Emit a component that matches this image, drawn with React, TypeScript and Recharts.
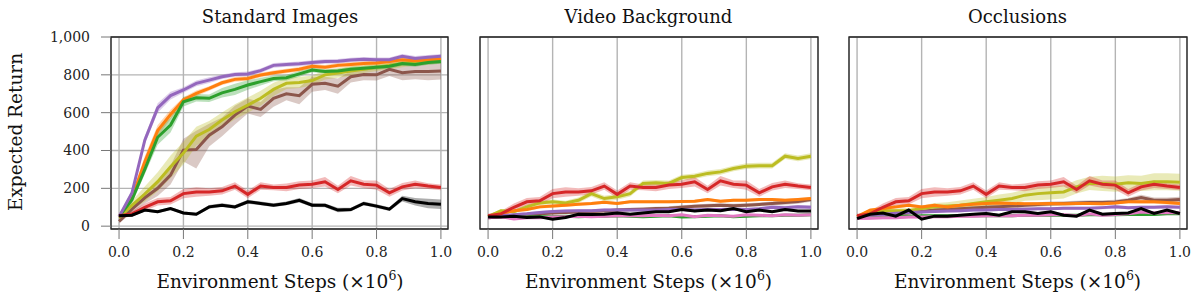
import { ComposedChart, Line, Area, XAxis, YAxis, CartesianGrid, ReferenceArea } from "recharts";

// environment steps (x10^6)
const steps = [0, 0.04, 0.08, 0.12, 0.16, 0.2, 0.24, 0.28, 0.32, 0.36, 0.4, 0.44, 0.48, 0.52, 0.56, 0.6, 0.64, 0.68, 0.72, 0.76, 0.8, 0.84, 0.88, 0.92, 0.96, 1.0];
const xTicks = [0, 0.2, 0.4, 0.6, 0.8, 1.0];
const yTicks = [0, 200, 400, 600, 800, 1000];
const panelTitles = ["Standard Images", "Video Background", "Occlusions"];

const COLORS: Record<string, string> = {
  brown: "#8c564b",
  olive: "#bcbd22",
  orange: "#ff7f0e",
  green: "#2ca02c",
  purple: "#9467bd",
  pink: "#e377c2",
  red: "#d62728",
  black: "#000000",
};

// red is the same in every panel
const red = [55, 65, 100, 129, 134, 172, 181, 181, 187, 212, 168, 212, 205, 205, 217, 222, 235, 194, 240, 222, 217, 176, 208, 222, 212, 205];
const redSd = [10, 15, 20, 20, 20, 25, 25, 20, 20, 20, 20, 20, 15, 20, 20, 20, 25, 20, 25, 20, 25, 20, 20, 20, 15, 15];

// Standard Images
const std = {
  brown: [25, 90, 150, 200, 270, 402, 405, 481, 525, 587, 635, 617, 676, 700, 690, 750, 755, 740, 790, 802, 800, 829, 811, 817, 817, 820],
  olive: [45, 110, 170, 235, 314, 386, 476, 511, 561, 605, 640, 676, 723, 755, 760, 770, 800, 810, 820, 830, 840, 850, 860, 870, 875, 875],
  orange: [50, 150, 340, 505, 590, 667, 702, 728, 758, 776, 781, 799, 811, 820, 830, 845, 840, 850, 855, 860, 862, 870, 880, 875, 880, 885],
  green: [50, 140, 300, 470, 535, 658, 679, 676, 705, 723, 746, 764, 781, 785, 805, 825, 818, 820, 830, 835, 840, 845, 860, 855, 865, 870],
  purple: [50, 175, 455, 625, 690, 720, 755, 772, 790, 802, 805, 822, 850, 855, 858, 865, 870, 872, 878, 882, 880, 880, 898, 887, 893, 898],
  red,
  black: [55, 58, 85, 76, 93, 70, 63, 102, 111, 102, 129, 120, 111, 120, 137, 111, 110, 85, 88, 120, 106, 90, 146, 129, 120, 116],
};
const stdSd = {
  brown: [10, 20, 30, 40, 50, 60, 100, 60, 50, 50, 40, 40, 45, 35, 45, 40, 35, 40, 30, 30, 30, 35, 40, 40, 45, 45],
  olive: [10, 25, 40, 50, 60, 60, 50, 45, 40, 40, 40, 40, 35, 30, 30, 25, 25, 25, 25, 20, 20, 20, 20, 20, 20, 15],
  orange: [10, 20, 30, 30, 25, 15, 15, 12, 12, 12, 12, 12, 12, 12, 12, 12, 12, 12, 12, 12, 12, 12, 12, 12, 12, 12],
  green: [10, 20, 25, 40, 40, 25, 20, 20, 25, 30, 25, 20, 15, 15, 15, 12, 12, 12, 12, 12, 12, 12, 12, 12, 12, 12],
  purple: [10, 15, 20, 25, 20, 15, 15, 15, 12, 12, 12, 12, 12, 12, 12, 12, 12, 12, 12, 12, 12, 12, 12, 12, 12, 12],
  red: redSd,
  black: [8, 8, 8, 8, 8, 8, 8, 10, 10, 10, 10, 10, 10, 10, 12, 10, 10, 12, 10, 10, 10, 10, 15, 20, 25, 25],
};

// Video Background
const video = {
  brown: [45, 50, 55, 60, 65, 70, 72, 75, 78, 80, 85, 88, 90, 93, 95, 100, 105, 108, 111, 108, 111, 115, 120, 125, 130, 141],
  olive: [50, 81, 76, 102, 123, 129, 123, 137, 172, 146, 155, 172, 226, 229, 226, 257, 264, 279, 287, 305, 317, 320, 320, 370, 358, 370],
  orange: [50, 67, 81, 88, 102, 106, 111, 116, 120, 127, 120, 129, 129, 129, 129, 130, 132, 141, 132, 137, 137, 141, 141, 137, 141, 146],
  green: [50, 52, 50, 48, 50, 50, 52, 50, 52, 52, 55, 52, 50, 52, 55, 48, 50, 52, 55, 50, 52, 55, 55, 58, 58, 60],
  purple: [50, 55, 60, 65, 72, 78, 80, 82, 82, 85, 85, 85, 85, 85, 88, 88, 85, 88, 88, 90, 88, 92, 100, 98, 102, 100],
  pink: [45, 50, 38, 45, 45, 48, 50, 52, 50, 52, 55, 55, 55, 58, 55, 60, 50, 58, 55, 52, 60, 58, 55, 60, 58, 60],
  red,
  black: [49, 49, 52, 46, 49, 37, 46, 63, 61, 63, 70, 63, 70, 76, 76, 88, 80, 85, 81, 93, 76, 85, 76, 88, 80, 80],
};
const videoSd = {
  brown: [8, 8, 8, 8, 8, 8, 8, 8, 8, 8, 10, 10, 10, 10, 10, 10, 10, 10, 10, 10, 10, 10, 10, 12, 12, 12],
  olive: [8, 10, 10, 12, 12, 12, 12, 15, 15, 15, 15, 15, 15, 15, 15, 15, 15, 15, 15, 15, 15, 15, 15, 15, 15, 15],
  orange: [6, 6, 8, 8, 8, 8, 8, 8, 8, 8, 8, 8, 8, 8, 8, 8, 8, 8, 8, 8, 8, 8, 8, 8, 8, 8],
  green: [5, 5, 5, 5, 5, 5, 5, 5, 5, 5, 5, 5, 5, 5, 5, 5, 5, 5, 5, 5, 5, 5, 5, 5, 5, 5],
  purple: [6, 6, 8, 8, 8, 8, 8, 8, 8, 8, 8, 8, 8, 8, 8, 8, 8, 8, 8, 8, 8, 8, 10, 10, 10, 10],
  pink: [6, 6, 6, 6, 6, 6, 6, 6, 6, 6, 6, 6, 6, 6, 6, 6, 6, 6, 6, 6, 6, 6, 6, 6, 6, 6],
  red: redSd,
  black: [6, 6, 6, 6, 6, 6, 6, 6, 6, 6, 6, 6, 6, 6, 6, 6, 6, 6, 6, 6, 6, 6, 6, 6, 6, 6],
};

// Occlusions
const occl = {
  brown: [48, 55, 60, 65, 70, 78, 85, 88, 92, 96, 100, 103, 106, 110, 115, 118, 120, 122, 125, 125, 128, 137, 151, 137, 137, 141],
  olive: [50, 76, 81, 81, 81, 93, 102, 106, 111, 120, 129, 137, 146, 164, 172, 176, 181, 208, 226, 226, 222, 229, 226, 235, 235, 232],
  orange: [50, 85, 93, 102, 111, 102, 111, 102, 111, 116, 120, 123, 120, 118, 118, 120, 118, 120, 120, 118, 122, 129, 129, 129, 125, 120],
  green: [45, 50, 50, 52, 52, 55, 55, 55, 55, 55, 55, 55, 55, 58, 58, 58, 58, 58, 60, 60, 60, 62, 62, 62, 65, 65],
  purple: [50, 58, 62, 68, 72, 75, 78, 80, 82, 85, 85, 88, 88, 90, 92, 92, 95, 95, 95, 98, 102, 98, 100, 100, 102, 100],
  pink: [40, 42, 45, 45, 48, 48, 50, 50, 52, 52, 55, 55, 55, 58, 58, 60, 60, 55, 65, 58, 62, 65, 75, 70, 72, 70],
  red,
  black: [40, 63, 70, 53, 85, 37, 53, 53, 58, 63, 67, 58, 76, 76, 67, 76, 58, 53, 85, 63, 67, 70, 93, 67, 85, 67],
};
const occlSd = {
  brown: [8, 8, 8, 8, 8, 8, 10, 10, 10, 10, 10, 10, 10, 12, 12, 12, 12, 12, 12, 12, 12, 12, 15, 15, 15, 15],
  olive: [8, 10, 12, 12, 15, 15, 20, 20, 25, 25, 25, 30, 30, 30, 35, 35, 35, 35, 35, 40, 40, 40, 40, 45, 45, 45],
  orange: [6, 8, 8, 8, 8, 8, 8, 8, 8, 8, 8, 8, 8, 8, 8, 8, 8, 8, 8, 8, 8, 8, 10, 10, 10, 10],
  green: [5, 5, 5, 5, 5, 5, 5, 5, 5, 5, 5, 5, 5, 5, 5, 5, 5, 5, 5, 5, 5, 5, 5, 5, 5, 5],
  purple: [6, 6, 8, 8, 8, 8, 8, 8, 8, 8, 8, 8, 8, 8, 8, 8, 8, 8, 8, 8, 8, 8, 8, 8, 8, 8],
  pink: [8, 8, 8, 8, 8, 8, 8, 8, 8, 8, 8, 8, 8, 8, 8, 8, 8, 8, 8, 8, 8, 8, 8, 8, 8, 8],
  red: redSd,
  black: [6, 6, 6, 6, 6, 6, 6, 6, 6, 6, 6, 6, 6, 6, 6, 6, 6, 6, 6, 6, 6, 6, 6, 6, 6, 6],
};

const FONT = "'DejaVu Serif', serif";
const GRID = "#b4b4b4";
const X_DOMAIN: [number, number] = [-0.025, 1.022];
const Y_DOMAIN: [number, number] = [-15, 1000];

type Means = Record<string, number[]>;

function buildRows(means: Means, sds: Means) {
  return steps.map((x, i) => {
    const row: Record<string, unknown> = { x };
    Object.keys(means).forEach((k) => {
      const m = means[k][i];
      const s = sds[k][i];
      row[k] = m;
      row[k + "Band"] = [m - s, m + s];
    });
    return row;
  });
}

interface PanelProps {
  left: number;
  width: number;
  marginLeft: number;
  marginRight: number;
  yAxisWidth: number;
  showYLabels: boolean;
  means: Means;
  sds: Means;
}

function Panel({ left, width, marginLeft, marginRight, yAxisWidth, showYLabels, means, sds }: PanelProps) {
  const rows = buildRows(means, sds);
  const keys = Object.keys(means);
  const tickStyle = { fill: "#222", fontSize: 14, fontFamily: FONT };
  return (
    <div style={{ position: "absolute", left, top: 0 }}>
      <ComposedChart
        width={width}
        height={300}
        data={rows}
        margin={{ top: 37, right: marginRight, left: marginLeft, bottom: 41 }}
      >
        <CartesianGrid stroke={GRID} strokeWidth={1.4} />
        <XAxis
          dataKey="x"
          type="number"
          domain={X_DOMAIN}
          ticks={xTicks}
          allowDataOverflow
          height={30}
          tickSize={10}
          tickMargin={8}
          axisLine={false}
          tickLine={{ stroke: "#777" }}
          tick={tickStyle}
          tickFormatter={(v: number) => v.toFixed(1)}
        />
        <YAxis
          type="number"
          domain={Y_DOMAIN}
          ticks={yTicks}
          allowDataOverflow
          width={yAxisWidth}
          tickSize={10}
          tickMargin={11}
          axisLine={false}
          tickLine={{ stroke: "#777" }}
          tick={showYLabels ? tickStyle : false}
          tickFormatter={(v: number) => v.toLocaleString("en-US")}
        />
        {keys.map((k) => (
          <Area
            key={k + "Band"}
            dataKey={k + "Band"}
            type="linear"
            stroke="none"
            fill={COLORS[k]}
            fillOpacity={0.32}
            isAnimationActive={false}
          />
        ))}
        {keys.map((k) => (
          <Line
            key={k}
            dataKey={k}
            type="linear"
            stroke={COLORS[k]}
            strokeWidth={3}
            dot={false}
            activeDot={false}
            isAnimationActive={false}
          />
        ))}
        <ReferenceArea
          x1={X_DOMAIN[0]}
          x2={X_DOMAIN[1]}
          y1={Y_DOMAIN[0]}
          y2={Y_DOMAIN[1]}
          fill="none"
          stroke="#222"
          strokeWidth={1.3}
        />
      </ComposedChart>
    </div>
  );
}

const panelCenters = [280, 648.5, 1017.5];

export default function App() {
  return (
    <div style={{ position: "absolute", left: 0, top: 0, width: 1200, height: 300, background: "#fff" }}>
      <Panel left={0} width={460} marginLeft={51} marginRight={12} yAxisWidth={60} showYLabels means={std} sds={stdSd} />
      <Panel left={460} width={370} marginLeft={10} marginRight={12} yAxisWidth={10} showYLabels={false} means={video} sds={videoSd} />
      <Panel left={830} width={370} marginLeft={9} marginRight={13} yAxisWidth={10} showYLabels={false} means={occl} sds={occlSd} />
      <svg width={1200} height={300} style={{ position: "absolute", left: 0, top: 0, pointerEvents: "none" }}>
        {panelTitles.map((t, i) => (
          <text key={t} x={panelCenters[i]} y={23} textAnchor="middle" fontFamily={FONT} fontSize={18} fill="#111">
            {t}
          </text>
        ))}
        {panelCenters.map((c, i) => (
          <text key={"xl" + i} x={c} y={288} textAnchor="middle" fontFamily={FONT} fontSize={18.5} fill="#111">
            Environment Steps (×10<tspan dy={-8} fontSize={12.5}>6</tspan>
            <tspan dy={8}>)</tspan>
          </text>
        ))}
        <text x={22} y={132} transform="rotate(-90 22 132)" textAnchor="middle" fontFamily={FONT} fontSize={18.5} fill="#111">
          Expected Return
        </text>
      </svg>
    </div>
  );
}
